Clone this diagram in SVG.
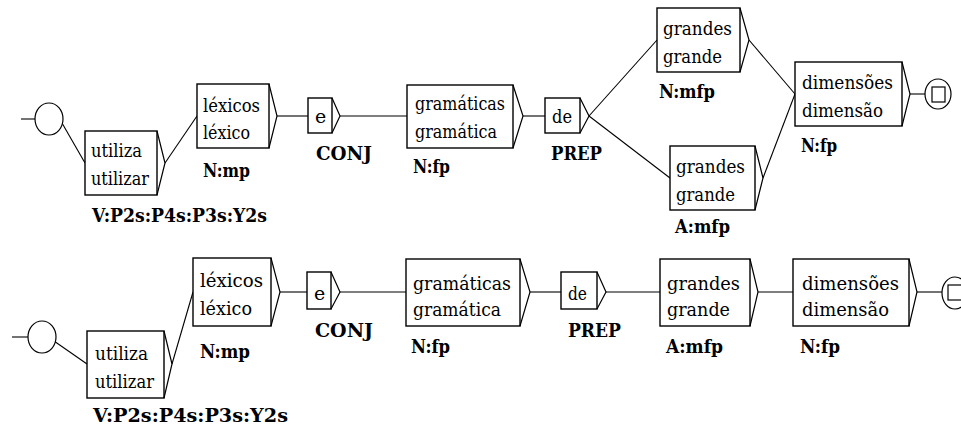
<svg xmlns="http://www.w3.org/2000/svg" width="961" height="429" viewBox="0 0 961 429">
<style>
.bx{fill:#fff;stroke:#000;stroke-width:1.4}
.cv{fill:none;stroke:#000;stroke-width:1.2}
.st{fill:#fff;stroke:#000;stroke-width:1.2}
.ln{fill:none;stroke:#000;stroke-width:1.1}
.t{font-family:"DejaVu Serif","Liberation Serif",serif;font-size:19px;fill:#000}
.lb{font-family:"DejaVu Serif","Liberation Serif",serif;font-size:19px;font-weight:bold;fill:#000}
</style>
<rect width="961" height="429" fill="#fff"/>
<g id="connectors">
<path class="ln" d="M21 119H35"/>
<path class="ln" d="M62 123L85 163"/>
<path class="ln" d="M165 163L197 116"/>
<path class="ln" d="M277 116H308"/>
<path class="ln" d="M340 116H407"/>
<path class="ln" d="M523 116H545"/>
<path class="ln" d="M589 116L657 40"/>
<path class="ln" d="M589 116L670 178"/>
<path class="ln" d="M749 40L795 94"/>
<path class="ln" d="M763 178L795 94"/>
<path class="ln" d="M910 94H925"/>
<path class="ln" d="M12 337H28"/>
<path class="ln" d="M54 341L87 364"/>
<path class="ln" d="M172 364L193 292"/>
<path class="ln" d="M280 292H307"/>
<path class="ln" d="M340 292H406"/>
<path class="ln" d="M530 292H561"/>
<path class="ln" d="M606 292H660"/>
<path class="ln" d="M758 292H793"/>
<path class="ln" d="M917 292H942"/>
</g>
<g id="start1"><ellipse class="st" cx="49" cy="119" rx="14" ry="16"/></g>
<g id="utiliza1">
<rect class="bx" x="85" y="131" width="72" height="64"/>
<polyline class="cv" points="157,131 165,163 157,195"/>
<text class="t" x="91" y="157" textLength="51" lengthAdjust="spacingAndGlyphs">utiliza</text>
<text class="t" x="91" y="185" textLength="58" lengthAdjust="spacingAndGlyphs">utilizar</text>
<text class="lb" x="92" y="222" textLength="175" lengthAdjust="spacingAndGlyphs">V:P2s:P4s:P3s:Y2s</text>
</g>
<g id="lexicos1">
<rect class="bx" x="197" y="84" width="72" height="64"/>
<polyline class="cv" points="269,84 277,116 269,148"/>
<text class="t" x="203" y="112" textLength="57" lengthAdjust="spacingAndGlyphs">léxicos</text>
<text class="t" x="203" y="139" textLength="47" lengthAdjust="spacingAndGlyphs">léxico</text>
<text class="lb" x="203" y="177" textLength="47" lengthAdjust="spacingAndGlyphs">N:mp</text>
</g>
<g id="e1">
<rect class="bx" x="308" y="98" width="24" height="35"/>
<polyline class="cv" points="332,98 340,116 332,133"/>
<text class="t" x="315" y="123">e</text>
<text class="lb" x="316" y="160" textLength="56" lengthAdjust="spacingAndGlyphs">CONJ</text>
</g>
<g id="gramaticas1">
<rect class="bx" x="407" y="85" width="106" height="63"/>
<polyline class="cv" points="513,85 523,116 513,148"/>
<text class="t" x="415" y="110" textLength="90" lengthAdjust="spacingAndGlyphs">gramáticas</text>
<text class="t" x="415" y="138" textLength="82" lengthAdjust="spacingAndGlyphs">gramática</text>
<text class="lb" x="413" y="173" textLength="37" lengthAdjust="spacingAndGlyphs">N:fp</text>
</g>
<g id="de1">
<rect class="bx" x="545" y="98" width="35" height="35"/>
<polyline class="cv" points="580,98 589,116 580,133"/>
<text class="t" x="552" y="123" textLength="20" lengthAdjust="spacingAndGlyphs">de</text>
<text class="lb" x="551" y="160" textLength="51" lengthAdjust="spacingAndGlyphs">PREP</text>
</g>
<g id="grandesN1">
<rect class="bx" x="657" y="8" width="83" height="64"/>
<polyline class="cv" points="740,8 749,40 740,72"/>
<text class="t" x="663" y="35" textLength="69" lengthAdjust="spacingAndGlyphs">grandes</text>
<text class="t" x="663" y="63" textLength="59" lengthAdjust="spacingAndGlyphs">grande</text>
<text class="lb" x="659" y="98" textLength="56" lengthAdjust="spacingAndGlyphs">N:mfp</text>
</g>
<g id="grandesA1">
<rect class="bx" x="670" y="146" width="85" height="64"/>
<polyline class="cv" points="755,146 763,178 755,210"/>
<text class="t" x="676" y="173" textLength="69" lengthAdjust="spacingAndGlyphs">grandes</text>
<text class="t" x="676" y="201" textLength="59" lengthAdjust="spacingAndGlyphs">grande</text>
<text class="lb" x="675" y="233" textLength="55" lengthAdjust="spacingAndGlyphs">A:mfp</text>
</g>
<g id="dimensoes1">
<rect class="bx" x="795" y="62" width="107" height="64"/>
<polyline class="cv" points="902,62 910,94 902,126"/>
<text class="t" x="802" y="89" textLength="91" lengthAdjust="spacingAndGlyphs">dimensões</text>
<text class="t" x="802" y="117" textLength="81" lengthAdjust="spacingAndGlyphs">dimensão</text>
<text class="lb" x="801" y="152" textLength="36" lengthAdjust="spacingAndGlyphs">N:fp</text>
</g>
<g id="end1">
<ellipse class="st" cx="938" cy="94" rx="13" ry="15"/>
<rect class="st" x="932" y="87" width="13" height="15"/>
</g>
<g id="start2"><ellipse class="st" cx="42" cy="337" rx="14" ry="16"/></g>
<g id="utiliza2">
<rect class="bx" x="87" y="331" width="77" height="67"/>
<polyline class="cv" points="164,331 172,364 164,398"/>
<text class="t" x="95" y="360" textLength="53" lengthAdjust="spacingAndGlyphs">utiliza</text>
<text class="t" x="95" y="388" textLength="59" lengthAdjust="spacingAndGlyphs">utilizar</text>
<text class="lb" x="93" y="422" textLength="195" lengthAdjust="spacingAndGlyphs">V:P2s:P4s:P3s:Y2s</text>
</g>
<g id="lexicos2">
<rect class="bx" x="193" y="258" width="78" height="68"/>
<polyline class="cv" points="271,258 280,292 271,326"/>
<text class="t" x="200" y="287" textLength="63" lengthAdjust="spacingAndGlyphs">léxicos</text>
<text class="t" x="200" y="315" textLength="52" lengthAdjust="spacingAndGlyphs">léxico</text>
<text class="lb" x="200" y="358" textLength="50" lengthAdjust="spacingAndGlyphs">N:mp</text>
</g>
<g id="e2">
<rect class="bx" x="307" y="272" width="24" height="37"/>
<polyline class="cv" points="331,272 340,292 331,309"/>
<text class="t" x="314" y="300">e</text>
<text class="lb" x="315" y="337" textLength="58" lengthAdjust="spacingAndGlyphs">CONJ</text>
</g>
<g id="gramaticas2">
<rect class="bx" x="406" y="259" width="114" height="67"/>
<polyline class="cv" points="520,259 530,292 520,326"/>
<text class="t" x="413" y="290" textLength="98" lengthAdjust="spacingAndGlyphs">gramáticas</text>
<text class="t" x="413" y="316" textLength="88" lengthAdjust="spacingAndGlyphs">gramática</text>
<text class="lb" x="411" y="353" textLength="39" lengthAdjust="spacingAndGlyphs">N:fp</text>
</g>
<g id="de2">
<rect class="bx" x="561" y="272" width="36" height="37"/>
<polyline class="cv" points="597,272 606,292 597,309"/>
<text class="t" x="568" y="300" textLength="19" lengthAdjust="spacingAndGlyphs">de</text>
<text class="lb" x="568" y="337" textLength="53" lengthAdjust="spacingAndGlyphs">PREP</text>
</g>
<g id="grandes2">
<rect class="bx" x="660" y="259" width="90" height="67"/>
<polyline class="cv" points="750,259 758,292 750,326"/>
<text class="t" x="667" y="290" textLength="73" lengthAdjust="spacingAndGlyphs">grandes</text>
<text class="t" x="667" y="316" textLength="63" lengthAdjust="spacingAndGlyphs">grande</text>
<text class="lb" x="666" y="353" textLength="57" lengthAdjust="spacingAndGlyphs">A:mfp</text>
</g>
<g id="dimensoes2">
<rect class="bx" x="793" y="259" width="116" height="67"/>
<polyline class="cv" points="909,259 917,292 909,326"/>
<text class="t" x="802" y="290" textLength="97" lengthAdjust="spacingAndGlyphs">dimensões</text>
<text class="t" x="802" y="316" textLength="87" lengthAdjust="spacingAndGlyphs">dimensão</text>
<text class="lb" x="800" y="353" textLength="40" lengthAdjust="spacingAndGlyphs">N:fp</text>
</g>
<g id="end2">
<ellipse class="st" cx="955" cy="293" rx="13" ry="16"/>
<rect class="st" x="948" y="285" width="14" height="15"/>
</g>
</svg>
